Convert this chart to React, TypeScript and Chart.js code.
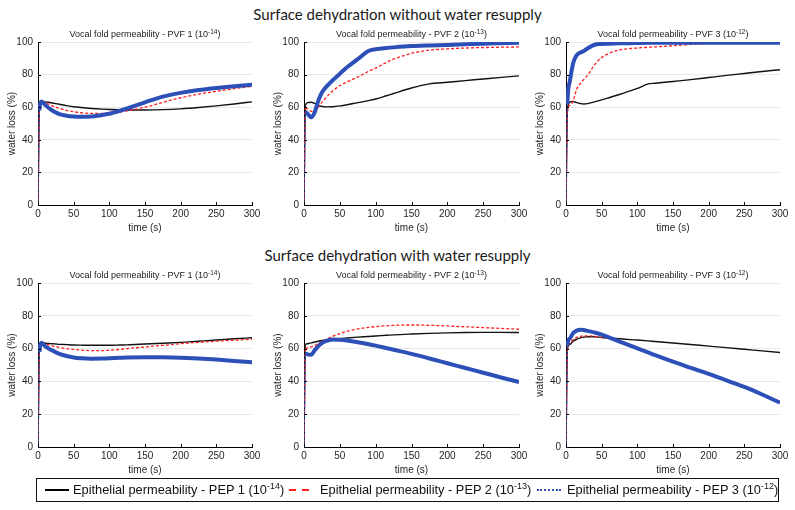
import React, { useEffect, useRef } from "react";
import { Chart, registerables } from "chart.js";
Chart.register(...registerables);

// ---------- data ----------
const TIME = [0, 2, 5, 10, 15, 20, 25, 30, 40, 50, 60, 75, 90, 100, 115, 125, 150, 175, 200, 225, 250, 275, 300];
const X_TICKS = [0, 50, 100, 150, 200, 250, 300];
const Y_TICKS = [0, 20, 40, 60, 80, 100];

// Surface dehydration without water resupply
const A1_PEP1 = [0, 60, 63.5, 63.3, 63, 62.6, 62.2, 61.8, 61, 60.3, 59.8, 59.2, 58.8, 58.6, 58.4, 58.3, 58.3, 58.5, 59, 59.8, 60.8, 62, 63.3];
const A1_PEP2 = [0, 58, 63.5, 62.8, 61.8, 60.8, 60, 59.3, 58, 57.2, 56.6, 56.2, 56.2, 56.4, 57.2, 57.8, 60, 63, 65.8, 68, 69.8, 71.4, 72.8];
const A1_PEP3 = [0, 58, 63.5, 61.5, 59.5, 58, 56.8, 55.8, 54.8, 54.3, 54.1, 54.3, 55.2, 56, 57.8, 59.2, 63, 66.5, 68.8, 70.5, 71.8, 72.9, 73.8];

const A2_PEP1 = [0, 61, 62.8, 63, 62.3, 61.2, 60.5, 60.2, 60.3, 60.8, 61.5, 62.8, 64, 65, 67, 68.4, 71.8, 74.3, 75.3, 76.3, 77.3, 78.3, 79.2];
const A2_PEP2 = [0, 59.5, 59, 57.5, 57.5, 60, 63, 65.5, 70, 73.3, 75.5, 78.5, 82, 84, 87.5, 89.5, 93, 95, 95.8, 96.3, 96.6, 96.8, 97];
const A2_PEP3 = [0, 57, 56, 53.8, 57, 64, 69, 72, 76.5, 80.5, 84.5, 89.5, 94.5, 95.5, 96.3, 96.7, 97.5, 97.9, 98.2, 98.6, 99, 99.3, 99.6];

const A3_PEP1 = [0, 58, 63, 63.5, 62.8, 62.3, 62, 62.2, 63.3, 64.5, 65.8, 67.8, 70, 71.5, 74.3, 74.7, 75.8, 76.9, 78.2, 79.5, 80.7, 81.9, 83];
const A3_PEP2 = [0, 57, 61, 64, 71, 74.5, 77, 79.5, 86, 90.5, 93, 95.2, 96, 96.3, 96.8, 97, 97.7, 98.5, 99.3, 99.6, 99.8, 99.9, 100];
const A3_PEP3 = [0, 62, 75, 87, 92, 93.5, 94.5, 96, 98.3, 98.8, 99, 99.2, 99.3, 99.4, 99.5, 99.5, 99.6, 99.6, 99.6, 99.6, 99.6, 99.6, 99.5];

// Surface dehydration with water resupply
const B1_PEP1 = [0, 60, 63.5, 63.3, 63.1, 63, 62.8, 62.6, 62.4, 62.2, 62.1, 62, 62, 62, 62.2, 62.3, 62.8, 63.3, 63.8, 64.5, 65.2, 66, 66.6];
const B1_PEP2 = [0, 58, 63.5, 63, 62.3, 61.7, 61.2, 60.7, 60, 59.5, 59.1, 58.8, 58.8, 59, 59.5, 60, 61, 62, 63, 63.8, 64.5, 65.1, 65.7];
const B1_PEP3 = [0, 58, 63.5, 61.5, 60, 58.8, 57.7, 56.8, 55.5, 54.6, 54.1, 53.8, 53.9, 54.1, 54.4, 54.6, 54.8, 54.7, 54.4, 53.9, 53.3, 52.5, 51.7];

const B2_PEP1 = [0, 62.5, 63, 63.5, 64, 64.5, 64.9, 65.2, 65.7, 66.1, 66.5, 67, 67.4, 67.7, 68.1, 68.4, 68.9, 69.3, 69.6, 69.8, 69.9, 69.9, 69.8];
const B2_PEP2 = [0, 60, 60.5, 61, 62, 63.2, 64.3, 65.5, 67.5, 69.2, 70.5, 72, 73, 73.4, 73.9, 74.2, 74.4, 74.2, 73.8, 73.3, 72.8, 72.3, 71.8];
const B2_PEP3 = [0, 57, 56.5, 56.3, 59, 61.5, 63.3, 64.5, 65.5, 65.4, 65, 63.9, 62.7, 61.8, 60.3, 59.3, 56.8, 54, 51.1, 48.2, 45.3, 42.4, 39.6];

const B3_PEP1 = [0, 60, 62.5, 64.5, 65.7, 66.5, 67, 67.2, 67.2, 66.8, 66.5, 66, 65.5, 65.2, 64.7, 64.3, 63.4, 62.5, 61.5, 60.6, 59.6, 58.6, 57.6];
const B3_PEP2 = [0, 59, 63, 65.5, 66.8, 67.5, 67.8, 67.8, 67.5, 67, 66.2, 64.3, 61.9, 60.3, 57.9, 56.2, 52.2, 48.4, 44.7, 40.8, 36.8, 32.2, 27.2];
const B3_PEP3 = [0, 62, 66, 69.5, 71, 71.5, 71.3, 70.8, 69.8, 68.5, 66.8, 64.3, 61.8, 60.2, 57.7, 56, 52, 48.3, 44.6, 40.6, 36.6, 32, 27];

const SECTION_TITLES = ["Surface dehydration without water resupply", "Surface dehydration with water resupply"];
const PANEL_TITLES = ["Vocal fold permeability - PVF 1 (10", "Vocal fold permeability - PVF 2 (10", "Vocal fold permeability - PVF 3 (10"];
const PANEL_EXPONENTS = ["-14", "-13", "-12"];
const LEGEND_LABELS = ["Epithelial permeability - PEP 1 (10", "Epithelial permeability - PEP 2 (10", "Epithelial permeability - PEP 3 (10"];
const LEGEND_EXPONENTS = ["-14", "-13", "-12"];
const X_TITLE = "time (s)";
const Y_TITLE = "water loss (%)";

// ---------- layout / style ----------
const FONT = '"Liberation Sans", Arial, Helvetica, sans-serif';
const COLS = [
  [38, 252],
  [304, 519],
  [566, 780],
];
const ROWS = [
  [42, 205],
  [283, 447],
];
const PAD_L = 38;
const PAD_T = 18;
const PAD_R = 12;
const PAD_B = 32;

const STYLES = [
  { color: "#111111", width: 1.4, dash: [] as number[], order: 2, firstWidth: 1.4, firstDash: [] as number[] },
  { color: "#ff1f1f", width: 1.3, dash: [3, 2], order: 1, firstWidth: 1.3, firstDash: [3, 2] },
  { color: "#2d4fb8", width: 4, dash: [] as number[], order: 0, firstWidth: 1.4, firstDash: [1.5, 1.5] },
];

const PANELS = [
  { row: 0, col: 0, series: [A1_PEP1, A1_PEP2, A1_PEP3] },
  { row: 0, col: 1, series: [A2_PEP1, A2_PEP2, A2_PEP3] },
  { row: 0, col: 2, series: [A3_PEP1, A3_PEP2, A3_PEP3] },
  { row: 1, col: 0, series: [B1_PEP1, B1_PEP2, B1_PEP3] },
  { row: 1, col: 1, series: [B2_PEP1, B2_PEP2, B2_PEP3] },
  { row: 1, col: 2, series: [B3_PEP1, B3_PEP2, B3_PEP3] },
];

function makePlugin(main: string, sup: string) {
  return {
    id: "panelDecor",
    afterDraw(chart: any) {
      const { ctx, chartArea } = chart;
      ctx.save();
      const f = `9px ${FONT}`;
      const fs = `6.5px ${FONT}`;
      ctx.font = f;
      const w1 = ctx.measureText(main).width;
      const w3 = ctx.measureText(")").width;
      ctx.font = fs;
      const w2 = ctx.measureText(sup).width;
      let x = (chartArea.left + chartArea.right) / 2 - (w1 + w2 + w3) / 2;
      const y = chartArea.top - 7;
      ctx.fillStyle = "#222";
      ctx.textBaseline = "middle";
      ctx.textAlign = "left";
      ctx.font = f;
      ctx.fillText(main, x, y);
      x += w1;
      ctx.font = fs;
      ctx.fillText(sup, x, y - 3);
      x += w2;
      ctx.font = f;
      ctx.fillText(")", x, y);
      // inward ticks
      ctx.strokeStyle = "#000";
      ctx.lineWidth = 1;
      const xs = chart.scales.x;
      const ys = chart.scales.y;
      ctx.beginPath();
      Y_TICKS.forEach((v) => {
        const py = Math.round(ys.getPixelForValue(v)) + 0.5;
        ctx.moveTo(chartArea.left, py);
        ctx.lineTo(chartArea.left + 3, py);
      });
      X_TICKS.forEach((v) => {
        const px = Math.round(xs.getPixelForValue(v)) + 0.5;
        ctx.moveTo(px, chartArea.bottom);
        ctx.lineTo(px, chartArea.bottom - 3);
      });
      ctx.stroke();
      ctx.restore();
    },
  };
}

function Panel({ idx }: { idx: number }) {
  const ref = useRef<HTMLCanvasElement>(null);
  const p = PANELS[idx];
  const [L, R] = COLS[p.col];
  const [T, B] = ROWS[p.row];
  const w = R - L + PAD_L + PAD_R;
  const h = B - T + PAD_T + PAD_B;
  useEffect(() => {
    const datasets = p.series.map((vals, i) => ({
      label: LEGEND_LABELS[i],
      data: TIME.map((t, k) => ({ x: t, y: vals[k] })),
      borderColor: STYLES[i].color,
      borderWidth: STYLES[i].width,
      borderDash: STYLES[i].dash,
      order: STYLES[i].order,
      pointRadius: 0,
      fill: false,
      tension: 0.4,
      cubicInterpolationMode: "monotone" as const,
      segment: {
        borderWidth: (c: any) => (c.p0DataIndex === 0 ? STYLES[i].firstWidth : undefined),
        borderDash: (c: any) => (c.p0DataIndex === 0 ? STYLES[i].firstDash : undefined),
      },
    }));
    const chart = new Chart(ref.current!, {
      type: "line",
      data: { datasets },
      options: {
        animation: false,
        responsive: false,
        devicePixelRatio: 1,
        layout: { padding: { left: 0, top: PAD_T, right: PAD_R, bottom: 0 } },
        plugins: { legend: { display: false }, tooltip: { enabled: false }, title: { display: false } },
        scales: {
          x: {
            type: "linear",
            min: 0,
            max: 300,
            afterFit: (s: any) => {
              s.height = PAD_B;
            },
            afterBuildTicks: (s: any) => {
              s.ticks = X_TICKS.map((v) => ({ value: v }));
            },
            grid: { display: false, drawTicks: false },
            border: { display: true, color: "#000", width: 1 },
            ticks: { padding: 3, color: "#262626", font: { family: FONT, size: 10 }, maxRotation: 0 },
            title: { display: true, text: X_TITLE, color: "#262626", font: { family: FONT, size: 10 }, padding: { top: 2, bottom: 3 } },
          },
          y: {
            type: "linear",
            min: 0,
            max: 100,
            afterFit: (s: any) => {
              s.width = PAD_L;
            },
            afterBuildTicks: (s: any) => {
              s.ticks = Y_TICKS.map((v) => ({ value: v }));
            },
            grid: { display: true, drawTicks: false, color: "#e9e9e9", lineWidth: 1 },
            border: { display: true, color: "#000", width: 1 },
            ticks: { padding: 5, color: "#262626", font: { family: FONT, size: 10 } },
            title: { display: true, text: Y_TITLE, color: "#262626", font: { family: FONT, size: 10 }, padding: { top: 6, bottom: 0 } },
          },
        },
      },
      plugins: [makePlugin(PANEL_TITLES[p.col], PANEL_EXPONENTS[p.col])],
    } as any);
    return () => chart.destroy();
  }, []);
  return (
    <canvas
      ref={ref}
      width={w}
      height={h}
      style={{ position: "absolute", left: L - PAD_L, top: T - PAD_T, width: w, height: h }}
    />
  );
}

function LegendSample({ i }: { i: number }) {
  if (i === 0) return <div style={{ width: 24, height: 0, borderTop: "2px solid #000" }} />;
  if (i === 1)
    return (
      <div style={{ display: "flex", gap: 6, width: 22 }}>
        <div style={{ width: 7, height: 0, borderTop: "2px solid #ff1f1f" }} />
        <div style={{ width: 7, height: 0, borderTop: "2px solid #ff1f1f" }} />
      </div>
    );
  return <div style={{ width: 24, height: 0, borderTop: "2px dotted #2d4fb8" }} />;
}

const LEGEND_SAMPLE_X = [45, 289, 537];
const LEGEND_TEXT_X = [73, 320, 567];

export default function App() {
  return (
    <div style={{ position: "absolute", left: 0, top: 0, width: 795, height: 510, background: "#fff", overflow: "hidden" }}>
      {SECTION_TITLES.map((t, i) => (
        <div
          key={t}
          style={{
            position: "absolute",
            left: 0,
            width: 795,
            top: i === 0 ? 4 : 245,
            textAlign: "center",
            fontFamily: "Lato, 'Open Sans', sans-serif",
            fontSize: 15,
            lineHeight: "20px",
            color: "#1a1a1a",
          }}
        >
          {t}
        </div>
      ))}
      {PANELS.map((_, i) => (
        <Panel key={i} idx={i} />
      ))}
      <div
        style={{
          position: "absolute",
          left: 36,
          top: 478,
          width: 743,
          height: 24,
          border: "1.5px solid #111",
          boxSizing: "border-box",
          background: "transparent",
        }}
      />
      {LEGEND_LABELS.map((lab, i) => (
        <React.Fragment key={lab}>
          <div style={{ position: "absolute", left: LEGEND_SAMPLE_X[i], top: 489 }}>
            <LegendSample i={i} />
          </div>
          <div
            style={{
              position: "absolute",
              left: LEGEND_TEXT_X[i],
              top: 481,
              fontFamily: FONT,
              fontSize: 12.8,
              lineHeight: "18px",
              color: "#111",
              whiteSpace: "nowrap",
            }}
          >
            {lab}
            <sup style={{ fontSize: 9, lineHeight: 0 }}>{LEGEND_EXPONENTS[i]}</sup>)
          </div>
        </React.Fragment>
      ))}
    </div>
  );
}
